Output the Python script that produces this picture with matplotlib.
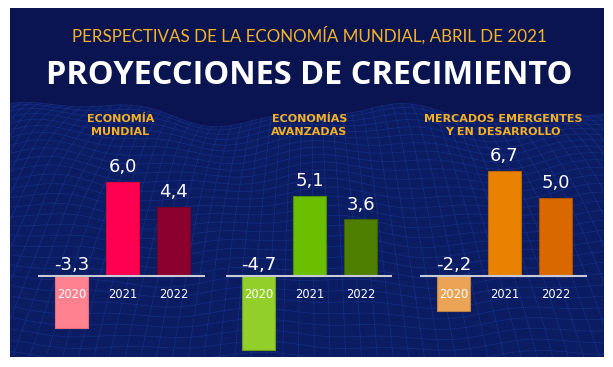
import numpy as np
import matplotlib
matplotlib.use("Agg")
import matplotlib.pyplot as plt
from matplotlib.patches import Rectangle, Polygon

# ---------------- data ----------------
subtitle = "PERSPECTIVAS DE LA ECONOMÍA MUNDIAL, ABRIL DE 2021"
title = "PROYECCIONES DE CRECIMIENTO"
groups = ["ECONOMÍA\nMUNDIAL", "ECONOMÍAS\nAVANZADAS", "MERCADOS EMERGENTES\nY EN DESARROLLO"]
years = ["2020", "2021", "2022"]
mundial = [-3.3, 6.0, 4.4]
avanzadas = [-4.7, 5.1, 3.6]
emergentes = [-2.2, 6.7, 5.0]
series = [mundial, avanzadas, emergentes]
colors = [
    ["#FF808F", "#FF0050", "#8C0030"],
    ["#93CF2A", "#6CBF00", "#4F7F00"],
    ["#EBA456", "#E88200", "#D96800"],
]
edge_colors = [
    ["#E0707E", "#D80044", "#700026"],
    ["#6E9E1E", "#4F8C00", "#3A5E00"],
    ["#C08040", "#B86800", "#A85200"],
]

W, H = 613, 367
fig = plt.figure(figsize=(W / 100, H / 100), dpi=100)
fig.patch.set_facecolor("white")

# ---------------- background ----------------
bg = fig.add_axes([0, 0, 1, 1], zorder=0)
bg.set_xlim(0, W)
bg.set_ylim(H, 0)
bg.axis("off")
panel = Rectangle((10, 8), 594, 349, facecolor="#0A1450", edgecolor="none")
bg.add_patch(panel)

# decorative wireframe landscape
R, C = 30, 70
ts = np.linspace(0, 1, R)
us = np.linspace(-0.25, 1.25, C)
T, U = np.meshgrid(ts, us, indexing="ij")
X = 307 + (U * 613 - 307) * (0.75 + 0.45 * T)
Yb = 113 + 255 * T ** 1.3
amp = 8 * (1 - 0.55 * T)
Y = Yb - amp * (np.sin(X / 48 + 2.5 * T) + 0.55 * np.sin(X / 21 - 6 * T + 1.0)
                + 0.4 * np.sin(X / 90 + 1.3))
top = np.column_stack([X[0], Y[0]])
fill_poly = np.vstack([top, [[X[0, -1], 400], [X[0, 0], 400]]])
fillp = Polygon(fill_poly, closed=True, facecolor="#0B1C62", edgecolor="none")
bg.add_patch(fillp)
fillp.set_clip_path(panel)
for i in range(R):
    ln, = bg.plot(X[i], Y[i], color="#2448B2", lw=0.5, alpha=0.4)
    ln.set_clip_path(panel)
for j in range(C):
    ln, = bg.plot(X[:, j], Y[:, j], color="#2448B2", lw=0.5, alpha=0.4)
    ln.set_clip_path(panel)

# ---------------- titles ----------------
t_sub = bg.text(309, 41.7, subtitle, ha="center", va="baseline",
                color="#F2B22A", fontsize=12, family="Lato")
t_title = bg.text(309.5, 83.5, title, ha="center", va="baseline",
                  color="white", fontsize=22, family="Open Sans", weight="bold")

group_cx = [120.5, 309.5, 503]
cat_texts = []
for gx, g in zip(group_cx, groups):
    lines = g.split("\n")
    for k, line in enumerate(lines):
        t = bg.text(gx, 122 + 13 * k, line, ha="center", va="baseline",
                    color="#F5B024", fontsize=8.5, family="DejaVu Sans", weight="bold")
        cat_texts.append(t)

fig.canvas.draw()
r = fig.canvas.get_renderer()


def fit(t, width_px):
    bb = t.get_window_extent(r)
    t.set_fontsize(t.get_fontsize() * width_px / bb.width)


fit(t_sub, 476)
fit(t_title, 525)
# category labels share one size, fitted on the widest line
bb = cat_texts[4].get_window_extent(r)
cat_size = cat_texts[4].get_fontsize() * 158 / bb.width
for t in cat_texts:
    t.set_fontsize(cat_size)

# ---------------- bars ----------------
s = 15.7          # px per unit
y0 = 276.0        # zero line, px from top
ymin, ymax = -5.3, 7.4
spacing = 51.0
first_centers = [71.5, 258.7, 453.5]
xl, xr = -0.65, 2.62
for gi, (vals, c0) in enumerate(zip(series, first_centers)):
    left = c0 + xl * spacing
    width = (xr - xl) * spacing
    bottom_px = y0 - ymin * s
    height = (ymax - ymin) * s
    ax = fig.add_axes([left / W, (H - bottom_px) / H, width / W, height / H], zorder=2)
    ax.set_xlim(xl, xr)
    ax.set_ylim(ymin, ymax)
    ax.axis("off")
    x = np.arange(len(years))
    ax.bar(x, vals, width=0.65, color=colors[gi], edgecolor=edge_colors[gi],
           linewidth=0.8, zorder=2)
    ax.axhline(0, color="#C8CAD6", lw=1.5, zorder=3)
    for xi, v, yr in zip(x, vals, years):
        label = f"{v:.1f}".replace(".", ",")
        base = max(v, 0)
        off = 7 if v > 0 else 4
        ax.annotate(label, (xi, base), xytext=(0, off), textcoords="offset points",
                    ha="center", va="baseline", color="white", fontsize=13,
                    family="DejaVu Sans", zorder=4, annotation_clip=False)
        ax.annotate(yr, (xi, 0), xytext=(0, -16), textcoords="offset points",
                    ha="center", va="baseline", color="white", fontsize=8.3,
                    family="DejaVu Sans", zorder=4, annotation_clip=False)

fig.savefig("out.png", dpi=100, facecolor=fig.get_facecolor())
